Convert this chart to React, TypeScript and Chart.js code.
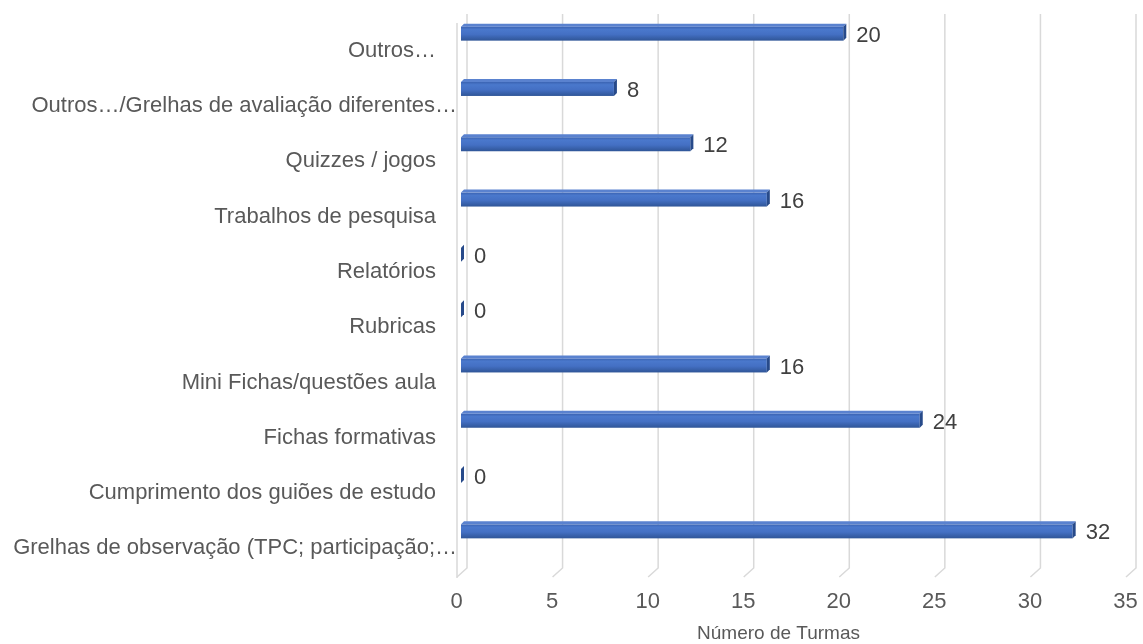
import { useEffect, useRef } from 'react';
import { Chart, registerables } from 'chart.js';

Chart.register(...registerables);

const categories = [
  'Outros…',
  'Outros…/Grelhas de avaliação diferentes…',
  'Quizzes / jogos',
  'Trabalhos de pesquisa',
  'Relatórios',
  'Rubricas',
  'Mini Fichas/questões aula',
  'Fichas formativas',
  'Cumprimento dos guiões de estudo',
  'Grelhas de observação (TPC; participação;…',
];
const values = [20, 8, 12, 16, 0, 0, 16, 24, 0, 32];
const xMin = 0;
const xMax = 35;
const xStep = 5;
const axisTitle = 'Número de Turmas';

const FONT = '"Liberation Sans", Arial, sans-serif';
const TEXT = '#595959';
const GRID = '#D9D9D9';

const threeD = {
  id: 'threeD',
  beforeDatasetsDraw(chart: any) {
    const { ctx, chartArea, scales } = chart;
    const xs = scales.x;
    const top = chartArea.top + 8;
    const bottom = chartArea.bottom + 9;
    ctx.save();
    ctx.strokeStyle = GRID;
    ctx.lineWidth = 1.5;
    const x0 = xs.getPixelForValue(xMin);
    ctx.beginPath();
    ctx.moveTo(x0 - 4, top + 9);
    ctx.lineTo(x0 - 4, bottom + 10);
    ctx.stroke();
    xs.ticks.forEach((t: any) => {
      const x = xs.getPixelForValue(t.value) + 6;
      ctx.beginPath();
      ctx.moveTo(x, top);
      ctx.lineTo(x, bottom);
      ctx.lineTo(x - 10, bottom + 9);
      ctx.stroke();
    });
    // tick labels
    ctx.fillStyle = TEXT;
    ctx.font = `22px ${FONT}`;
    ctx.textAlign = 'center';
    ctx.textBaseline = 'middle';
    xs.ticks.forEach((t: any) => {
      const x = xs.getPixelForValue(t.value) - 4.5;
      ctx.fillText(String(t.value), x, chartArea.bottom + 43);
    });
    // axis title
    ctx.font = `19px ${FONT}`;
    ctx.fillText(axisTitle, (chartArea.left + chartArea.right) / 2 - 17, chartArea.bottom + 75);
    ctx.restore();
  },
  afterDatasetsDraw(chart: any) {
    const { ctx, chartArea, scales } = chart;
    const meta = chart.getDatasetMeta(0);
    const d = 3;
    ctx.save();
    meta.data.forEach((el: any, i: number) => {
      const { x, y, base, height } = el.getProps(['x', 'y', 'base', 'height'], true);
      const t = y - height / 2;
      const b = y + height / 2;
      const g = ctx.createLinearGradient(0, t, 0, b);
      g.addColorStop(0, '#3A63B2');
      g.addColorStop(0.2, '#4A78CC');
      g.addColorStop(0.55, '#4470C4');
      g.addColorStop(1, '#2F5597');
      ctx.fillStyle = g;
      ctx.fillRect(base, t, x - base, height);
      ctx.fillStyle = '#5A82CF';
      ctx.beginPath();
      ctx.moveTo(base, t);
      ctx.lineTo(base + d, t - d);
      ctx.lineTo(x + d, t - d);
      ctx.lineTo(x, t);
      ctx.closePath();
      ctx.fill();
      ctx.fillStyle = '#274A8A';
      ctx.beginPath();
      ctx.moveTo(x, t);
      ctx.lineTo(x + d, t - d);
      ctx.lineTo(x + d, b - d);
      ctx.lineTo(x, b);
      ctx.closePath();
      ctx.fill();
      ctx.fillStyle = '#404040';
      ctx.font = `22px ${FONT}`;
      ctx.textAlign = 'left';
      ctx.textBaseline = 'middle';
      ctx.fillText(String(values[i]), x + d + 10, y + 2);
    });
    const ys = scales.y;
    ctx.fillStyle = TEXT;
    ctx.font = `22px ${FONT}`;
    ctx.textAlign = 'right';
    ctx.textBaseline = 'middle';
    categories.forEach((lab, i) => {
      const yy = ys.getPixelForValue(i) + 17;
      const w = ctx.measureText(lab).width;
      const xr = w > 400 ? chartArea.left - 4 : chartArea.left - 25;
      ctx.fillText(lab, xr, yy);
    });
    ctx.restore();
  },
};

export default function App() {
  const ref = useRef<HTMLCanvasElement>(null);
  useEffect(() => {
    if (!ref.current) return;
    const chart = new Chart(ref.current, {
      type: 'bar',
      data: {
        labels: categories,
        datasets: [
          {
            data: values,
            backgroundColor: 'rgba(0,0,0,0)',
            barThickness: 14,
          },
        ],
      },
      options: {
        indexAxis: 'y',
        animation: false,
        responsive: true,
        maintainAspectRatio: false,
        layout: { padding: { left: 461, right: 13, top: 6, bottom: 85 } },
        plugins: { legend: { display: false }, tooltip: { enabled: false } },
        scales: {
          y: { display: false, type: 'category' },
          x: {
            display: false,
            type: 'linear',
            min: xMin,
            max: xMax,
            ticks: { stepSize: xStep },
          },
        },
      },
      plugins: [threeD],
    });
    return () => chart.destroy();
  }, []);
  return (
    <div style={{ position: 'absolute', left: 0, top: 0, width: 1143, height: 644, background: '#fff' }}>
      <canvas ref={ref} />
    </div>
  );
}
